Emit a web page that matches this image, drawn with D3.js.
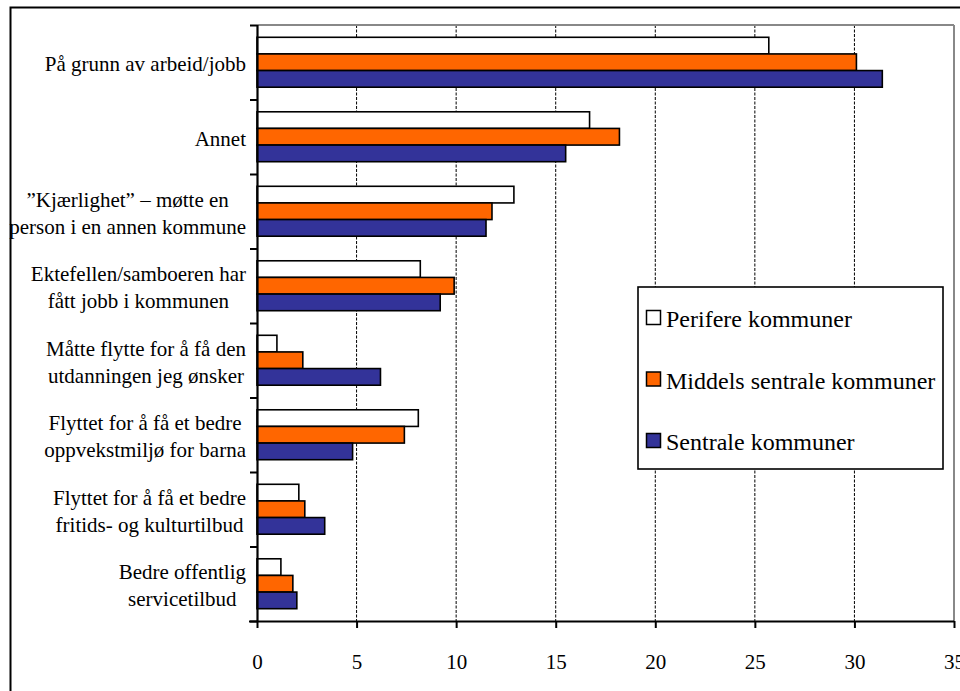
<!DOCTYPE html>
<html>
<head>
<meta charset="utf-8">
<script src="https://cdn.jsdelivr.net/npm/d3@7"></script>
</head>
<body style="margin:0">
<svg id="chart" width="960" height="691" style="display:block"></svg>
<script>
// Reasons for moving, by municipality type (percent)
const categories = [
  ["På grunn av arbeid/jobb"],
  ["Annet"],
  ["”Kjærlighet” – møtte en", "person i en annen kommune"],
  ["Ektefellen/samboeren har", "fått jobb i kommunen"],
  ["Måtte flytte for å få den", "utdanningen jeg ønsker"],
  ["Flyttet for å få et bedre", "oppvekstmiljø for barna"],
  ["Flyttet for å få et bedre", "fritids- og kulturtilbud"],
  ["Bedre offentlig", "servicetilbud"]
];
const seriesNames = ["Perifere kommuner", "Middels sentrale kommuner", "Sentrale kommuner"];
const perifere = [25.7, 16.7, 12.9, 8.2, 1.0, 8.1, 2.1, 1.2];
const middels  = [30.1, 18.2, 11.8, 9.9, 2.3, 7.4, 2.4, 1.8];
const sentrale = [31.4, 15.5, 11.5, 9.2, 6.2, 4.8, 3.4, 2.0];
const xTicks = [0, 5, 10, 15, 20, 25, 30, 35];
const colors = ["#ffffff", "#ff6600", "#333399"];

const FONT = "Liberation Serif";
const seriesValues = [perifere, middels, sentrale];
const svg = d3.select("#chart");

function styleText(sel, size) {
  return sel.attr("font-family", FONT)
    .attr("font-size", size)
    .style("font-family", `'${FONT}'`)
    .style("font-size", size + "px")
    .attr("fill", "#000");
}

// outer frame
svg.append("rect")
  .attr("x", 10.5).attr("y", 7.5)
  .attr("width", 1000).attr("height", 720)
  .attr("fill", "none").attr("stroke", "#000").attr("stroke-width", 2);

const plot = { left: 257, right: 954, top: 25, bottom: 621 };

const x = d3.scaleLinear().domain([0, 35]).range([plot.left, plot.right]);
const y = d3.scaleBand()
  .domain(d3.range(categories.length))
  .range([plot.top, plot.bottom])
  .paddingInner(0.33).paddingOuter(0.165);
const ySub = d3.scaleBand().domain(d3.range(seriesNames.length)).range([0, y.bandwidth()]);

// gridlines
svg.append("g").selectAll("line")
  .data(xTicks.filter(t => t > 0 && t < 35))
  .join("line")
  .attr("x1", d => x(d)).attr("x2", d => x(d))
  .attr("y1", plot.top).attr("y2", plot.bottom)
  .attr("stroke", "#000").attr("stroke-width", 1)
  .attr("stroke-dasharray", "3,1.5");

// plot area top and right edges
svg.append("line")
  .attr("x1", plot.left).attr("x2", plot.right)
  .attr("y1", plot.top).attr("y2", plot.top)
  .attr("stroke", "#888").attr("stroke-width", 2);
svg.append("line")
  .attr("x1", plot.right).attr("x2", plot.right)
  .attr("y1", plot.top).attr("y2", plot.bottom)
  .attr("stroke", "#888").attr("stroke-width", 2);

// bars
const groups = svg.append("g").selectAll("g")
  .data(categories.map((c, i) => i))
  .join("g")
  .attr("transform", i => `translate(0,${y(i)})`);

groups.selectAll("rect")
  .data(i => seriesValues.map((s, k) => ({ k, v: s[i] })))
  .join("rect")
  .attr("x", x(0))
  .attr("y", d => ySub(d.k))
  .attr("width", d => x(d.v) - x(0))
  .attr("height", ySub.bandwidth())
  .attr("fill", d => colors[d.k])
  .attr("stroke", "#000").attr("stroke-width", 1.6);

// bottom axis
const xAxis = d3.axisBottom(x).tickValues(xTicks).tickSize(7).tickPadding(26).tickFormat(d3.format("d"));
const gx = svg.append("g").attr("transform", `translate(0,${plot.bottom})`).call(xAxis);
gx.attr("font-family", FONT).attr("font-size", 21);
gx.select(".domain").attr("stroke", "#000").attr("stroke-width", 2.2).attr("d", `M${plot.left - 8},0.5H${plot.right}`);
gx.selectAll(".tick line").attr("stroke", "#000").attr("stroke-width", 2);
styleText(gx.selectAll(".tick text"), 21);

// left axis: ticks on category boundaries
const yEdge = d3.scaleLinear().domain([0, categories.length]).range([plot.top, plot.bottom]);
const yAxis = d3.axisLeft(yEdge).ticks(categories.length).tickSize(7).tickFormat("");
const gy = svg.append("g").attr("transform", `translate(${plot.left},0)`).call(yAxis);
gy.attr("font-family", FONT);
gy.select(".domain").attr("stroke", "#000").attr("stroke-width", 2.2).attr("d", `M0.5,${plot.top}V${plot.bottom}`);
gy.selectAll(".tick line").attr("stroke", "#000").attr("stroke-width", 2);

// category labels: each block right-aligned, lines centred within the block
const labelRight = 246;
const lineHeight = 27;
categories.forEach((lines, i) => {
  const cy = y(i) + y.bandwidth() / 2;
  const first = cy + 9 - (lines.length - 1) * lineHeight / 2;
  const texts = lines.map((ln, j) => styleText(svg.append("text"), 21)
    .attr("y", first + j * lineHeight)
    .attr("text-anchor", "middle")
    .text(ln));
  const maxW = d3.max(texts, t => t.node().getComputedTextLength());
  texts.forEach(t => t.attr("x", labelRight - maxW / 2));
});

// legend
const legend = svg.append("g").attr("transform", "translate(638,287)");
legend.append("rect")
  .attr("width", 305).attr("height", 182)
  .attr("fill", "#fff").attr("stroke", "#000").attr("stroke-width", 1.6);
seriesNames.forEach((n, k) => {
  const g = legend.append("g").attr("transform", `translate(0,${40 + k * 61.5})`);
  g.append("rect")
    .attr("x", 8.5).attr("y", -16.5).attr("width", 14).attr("height", 14)
    .attr("fill", colors[k]).attr("stroke", "#000").attr("stroke-width", 1.5);
  styleText(g.append("text"), 24)
    .attr("x", 28).attr("y", 0)
    .text(n);
});
</script>
</body>
</html>
